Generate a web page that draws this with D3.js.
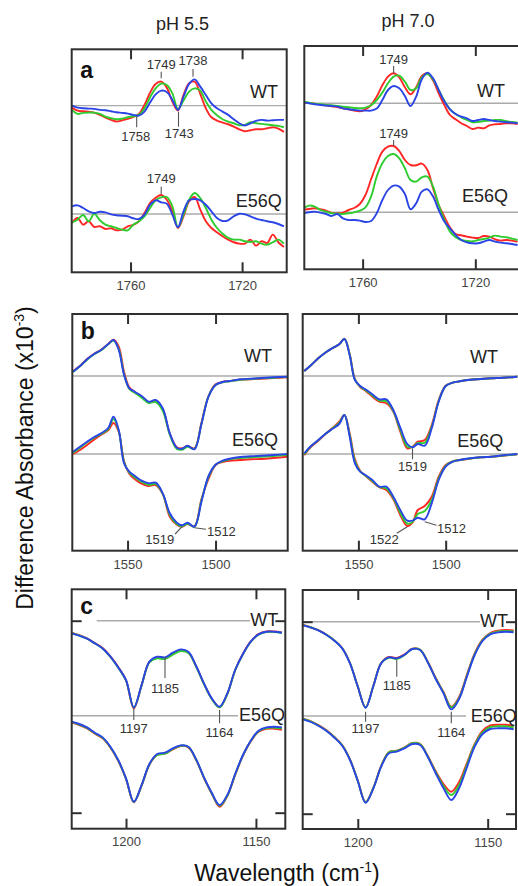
<!DOCTYPE html>
<html><head><meta charset="utf-8">
<script src="https://cdn.jsdelivr.net/npm/d3@7"></script>
<style>
body{margin:0;background:#fff}
svg{display:block}
text{font-family:"Liberation Sans",Arial,Helvetica,sans-serif}
</style>
</head><body>
<svg id="chart" width="518" height="886"></svg>
<script>
// ---------------- DATA ----------------
// wavenumber grids (cm-1)
const wnA = [1781,1779,1777,1775,1773,1771,1769,1767,1765,1763,1761,1759,1757,1755,1753,1751,1749,1747,1745,1743,1741,1739,1737,1735,1733,1731,1729,1727,1725,1723,1721,1719,1717,1715,1713,1711,1709,1707,1705];
const wnB = [1581,1577,1573,1569,1565,1561,1558,1555,1552,1549,1546,1542,1538,1534,1530,1526,1522,1519,1516,1512,1508,1504,1500,1496,1492,1486,1480,1474,1467,1459];
const wnC = [1221,1218,1215,1212,1209,1206,1203,1200,1197,1194,1191,1188,1185,1182,1179,1176,1173,1170,1167,1164,1161,1158,1155,1152,1149,1146,1143,1140];

// panel a, pH 5.5
const aL_WT_red   = [-2,-5,-5.7,-6,-7,-9.3,-12,-14.3,-16,-14.7,-13.3,-11.3,-8.3,0.7,13,21.7,24,18,4,-5,10.7,22.3,24,11.7,-2.7,-11.7,-15,-17,-18.7,-21,-23.7,-25.7,-24.7,-23.7,-23.7,-22.7,-21.7,-23,-26.3];
const aL_WT_green = [-4.3,-8.3,-7.3,-7,-7,-8.3,-11,-12.7,-13.7,-13,-11.7,-10.7,-9.3,-2.7,8.3,17.3,22,20.7,12.3,-3.3,5,14,17.3,15,4,-4.3,-9.7,-13.7,-16,-17.7,-19.7,-19.3,-16.7,-17.7,-18.3,-19,-19.7,-20.3,-21.7];
const aL_WT_blue  = [0,-2,-2.7,-3,-3.3,-4.3,-4.7,-5.7,-6.7,-7.3,-8,-9.3,-10,-6,3,11.3,15,13.7,5.7,-4.3,9,21.7,26.3,19,10.7,2.3,-2.7,-6,-9.3,-13.7,-17.7,-20,-17.7,-15.3,-14.3,-15,-14.7,-14.3,-14.3];
const aL_MT_red   = [-9,-4,-10.7,-7.3,-13,-12.3,-15,-14.3,-16.3,-15.7,-12.3,-11,-7.3,1,11,16.3,19,14.3,2.7,-14,-2.3,12.7,17,4.3,-7.3,-14,-18.3,-22.3,-25.7,-28.3,-29.7,-29.7,-25.7,-31.7,-27.3,-29,-20.7,-28.3,-33];
const aL_MT_green = [-8.3,-5.7,-1,-7.3,0.3,-6.3,-10.7,-12.3,-14,-15.7,-16.3,-10.7,-7.3,-2.3,6,13.7,16.7,17,7.7,-13.3,-0.7,14.3,21,16,6,-5.7,-14,-19.7,-24,-25.7,-25.7,-27.3,-28,-27.3,-29.7,-30.7,-28.3,-25.7,-29.7];
const aL_MT_blue  = [7.7,8.7,6,2.7,1,2.3,1.7,-0.3,-1.3,-1.7,-2.3,-4.3,-5,-0.7,9.3,13.7,11.7,10.3,-0.7,-13.3,2.7,13.7,15,13.7,9.3,2.7,-4,-7,-6.3,-2.3,0.3,-0.3,-2.3,-4.7,-6,-7.3,-8.3,-10,-12.3];
// panel a, pH 7.0
const aR_WT_red   = [0.7,0.3,-0.3,-1.3,-2,-3,-3.7,-5,-6,-7.3,-8,-6,-1.7,6.7,18,26.7,30,26,16,9,16,27.3,30,22.7,10,-1.7,-11.7,-16,-20,-22.7,-25.7,-24.3,-25,-22,-21,-20.7,-20,-20,-20.7];
const aR_WT_green = [1.7,0.7,-0.3,-1,-1.7,-2,-2.7,-3.3,-4,-4.7,-5,-4.3,-2,3.3,10.7,20,26.7,27.7,21.7,13.3,15,26,29.3,24,13.3,2.7,-6,-10.7,-14,-16.7,-19,-18.7,-17.7,-17.3,-16.7,-16.7,-18,-18.7,-19.3];
const aR_WT_blue  = [1,0,-1,-1.7,-2.3,-2.7,-3.3,-5,-6,-6.7,-7.3,-7.3,-7.3,-5.3,3.3,13.3,17.3,15,7.3,-2.7,6.7,24,30.7,25,13.3,1.7,-6,-10.7,-13.3,-15,-17.7,-16.7,-15.7,-16.7,-17.7,-18.3,-19,-19.3,-20];
const aR_MT_red   = [2.3,3.3,4,3,1.7,-0.7,-1,-0.3,2.3,4.3,8.3,17.3,33,48.3,60.7,65.7,66.3,61.3,52.3,47.3,47,48.7,42.3,24,7.3,-4.3,-15,-21.7,-23,-24.3,-25.3,-25.7,-23.7,-24.3,-27,-28.3,-27.7,-28.3,-29.3];
const aR_MT_green = [4,6.7,5.7,2.3,0.7,-1,-1.3,-1.7,-1,0,1.7,5,15.7,35.7,49,56.3,58.3,54,44,32.3,30.7,35,35.7,25.7,7.3,-7.7,-19.3,-25,-27.7,-28.7,-29,-27.7,-26.7,-25.3,-23.3,-24.3,-25,-26.3,-27.7];
const aR_MT_blue  = [-1,0,0.7,-0.3,-1.7,-3.7,-1.7,-6,-7.7,-7.7,-8.3,-9.7,-8.7,-1,12.3,22.3,26.7,25.7,18.3,3,9,20.7,23,15.7,2.3,-9.3,-16,-22.7,-27.7,-30,-31,-31,-29.3,-27.7,-29.3,-30.3,-31,-31.7,-32.7];

// panel b, pH 5.5
const bL_WT_red   = [4.7,10.3,17,22.3,26.3,32,36.3,29.3,4.3,-11.3,-15.7,-20.7,-26.3,-25,-33.3,-57.7,-71.3,-72.3,-70,-72.3,-46.7,-20,-8.3,-6,-5,-3.7,-3.3,-2.7,-2,-1.3];
const bL_WT_green = [4,9.7,16.3,21.7,25.7,31.7,35.3,27,2,-13,-16.7,-21.7,-27,-26,-34.7,-58.7,-73,-73.7,-70.7,-72.7,-47.7,-20.3,-9,-6.3,-5.3,-3.7,-3,-2.3,-1.7,-1];
const bL_WT_blue  = [4.3,10,16.7,22,26,32,36,26,1,-12.3,-15.7,-20,-25.7,-24,-32.3,-57.3,-71.7,-72.7,-69.7,-73.3,-48,-20.7,-9,-6,-5,-3.3,-2.7,-2,-1.3,-0.7];
const bL_MT_red   = [0,4,9,14.3,19.3,23.7,31,22,-7,-19.7,-25,-29.7,-32,-31,-40,-62.7,-70.7,-72.7,-70,-72.3,-45,-25,-11,-8,-6.7,-6,-5.3,-5,-4,-2.7];
const bL_MT_green = [1.3,6.3,11.7,16.3,20,25,35,23,-8,-18.7,-23,-28,-30.7,-30,-40,-60.7,-70,-72.3,-69.7,-72.7,-46.3,-23,-10.7,-7.3,-5.3,-4,-3.3,-2.7,-2,-1];
const bL_MT_blue  = [2.3,7.3,12.3,17,20.7,26,37.3,24,-9.3,-17.7,-21.7,-26.7,-29.3,-28.7,-39.3,-59.3,-68.7,-71.3,-68.7,-72.7,-47.7,-22,-10.7,-6.7,-4.7,-3,-2.3,-1.7,-1,0];
// panel b, pH 7.0
const bR_WT_red   = [5,11,17.7,23.3,27.7,31.7,37.3,22,-3,-11,-14.7,-20.7,-25.7,-27.3,-35.7,-55.7,-72.3,-70.7,-65.7,-64,-49,-24,-9.7,-6.7,-5.3,-3.7,-3,-2.3,-1.7,-0.7];
const bR_WT_green = [5,11,17.7,23.3,27.7,31.7,37,21.5,-3.5,-10.5,-14,-19.5,-24.5,-25.3,-35,-54,-70.5,-71,-67,-66.7,-50.7,-25,-10,-6.7,-5.3,-3.7,-3,-2.3,-1.7,-0.7];
const bR_WT_blue  = [5,11,17.7,23.3,27.7,31.7,37,21,-4,-10,-13.3,-18.3,-23.3,-23.3,-34,-51.7,-68,-71.3,-68,-69.7,-52.3,-25.7,-10,-6.7,-5.3,-3.7,-3,-2.3,-1.7,-0.7];
const bR_MT_red   = [-1.3,7.3,13.3,19.7,25.7,32.3,39,20.7,-5.3,-16.7,-21.7,-27.7,-33.3,-36,-45.3,-61,-72,-68.7,-56,-52,-42.7,-22.7,-11,-7.3,-6,-4.7,-3.3,-2.7,-1.7,-0.3];
const bR_MT_green = [-0.3,8,13.7,20,25.3,31,39,19,-7,-17.3,-21.5,-27,-33,-34.5,-44,-58.7,-69.5,-68,-60,-57,-46,-24.5,-12,-7.5,-6,-4.5,-3.3,-2.7,-1.5,-0.2];
const bR_MT_blue  = [0.7,8.3,14,20,25,30,39,17.3,-9.3,-17.7,-21,-26,-32.7,-32.7,-42.7,-56,-66.7,-66.7,-63.7,-65.3,-49.3,-26,-12.7,-7.7,-6,-4.3,-3.3,-2.7,-1.3,0];

// panel c, pH 5.5
const cL_WT_red   = [-12,-14.5,-17.7,-22.3,-27.3,-35.7,-46.3,-59.7,-87.7,-64.7,-41.3,-36.7,-37.3,-33,-29.7,-31.7,-45.7,-63,-78,-86.7,-73,-49.3,-33,-20.7,-13.3,-10.7,-10.7,-11.7];
const cL_WT_green = [-12.3,-14.8,-18,-22.7,-27.7,-36.3,-47,-59.7,-87,-64.7,-41.7,-37.7,-38.3,-34,-30.3,-32.3,-46,-63.3,-78.3,-86.7,-73.3,-49.7,-33.7,-21.3,-14,-11.3,-11.3,-12.3];
const cL_WT_blue  = [-12.7,-15,-18,-22.7,-27.7,-36,-46.7,-59.3,-86.7,-64.3,-41,-36,-36.7,-32,-28.7,-31,-45.3,-62.7,-77.7,-86,-72.7,-49.3,-33.3,-21,-13.7,-11,-11,-12];
const cL_MT_red   = [-7,-9.3,-12.7,-18,-22.7,-32,-45,-63.3,-86.7,-70,-49,-39,-38,-33.7,-30.3,-31.7,-44.3,-62.3,-78,-91,-80.3,-59.3,-40,-25.7,-16,-13,-13,-14];
const cL_MT_green = [-6.5,-8.8,-12.2,-17.5,-22.2,-31.5,-44.7,-63,-86.3,-69.7,-48.7,-39.3,-38,-33.3,-30,-31.3,-44,-62,-77.7,-90,-80,-58.7,-39.7,-25.3,-15.5,-12.3,-12,-12.7];
const cL_MT_blue  = [-6,-8.3,-11.7,-17,-21.7,-31,-44.3,-62.7,-86,-69.3,-48.3,-38.3,-37,-32.7,-29.7,-31,-43.7,-61.7,-77,-89.3,-79.3,-58.3,-39.3,-25,-15,-11.7,-11,-11.7];
// panel c, pH 7.0
const cR_WT_red   = [-3.3,-5.7,-8.7,-13,-18.7,-26.3,-41.3,-64.7,-85.7,-64,-41.3,-35.3,-36.3,-32.7,-27,-28,-40.3,-56.3,-70.3,-85,-75.3,-53,-31.7,-18,-11.3,-9,-8.3,-8.7];
const cR_WT_green = [-3.5,-5.8,-8.8,-13.2,-18.8,-26.5,-41.5,-64.8,-85.8,-64.2,-41.5,-36,-37.3,-33.3,-27.3,-28.2,-40.7,-56.8,-71,-85.7,-76.3,-54,-32.5,-18.7,-12,-9.8,-9.2,-9.7];
const cR_WT_blue  = [-3.7,-6,-9,-13.3,-19,-26.7,-41.7,-65,-86,-64.3,-41.7,-35.7,-36.7,-33,-27.3,-28.3,-41,-57.3,-71.7,-87.7,-77.3,-55,-33.3,-19.3,-12.7,-10.7,-10,-10.7];
const cR_MT_red   = [-2.7,-5.3,-9.3,-14.3,-21,-29,-43.3,-64.5,-86,-71.7,-50,-36,-34.7,-31.3,-27,-28,-40.3,-55.3,-68,-75.7,-66,-47,-28,-15,-9.5,-8.7,-8.7,-10];
const cR_MT_green = [-3,-5.7,-9.7,-14.7,-21.3,-29.3,-43.7,-64.8,-86.3,-72,-50.3,-36.3,-35,-31.7,-27.3,-28.3,-40.7,-56.3,-70,-79,-69,-49,-29,-16.5,-11,-10.3,-10.3,-11.5];
const cR_MT_blue  = [-3.3,-6,-10,-15,-21.7,-29.7,-44,-65,-86.7,-72.3,-50.7,-37.3,-35.7,-32.3,-28,-29,-41.3,-57.3,-72.3,-84,-72.3,-51.3,-30.7,-18,-13,-12.3,-12.3,-13.3];

const ticksA = [1760,1720];
const ticksB = [1550,1500];
const ticksC = [1200,1150];
const traceNames = ["WT","E56Q"];
const colTitles = ["pH 5.5","pH 7.0"];

// ---------------- LAYOUT ----------------
const COLORS = {red:"#ff2626", green:"#2fcc2f", blue:"#2a44e6"};
const svg = d3.select("#chart");
const line = (xs, x, y, off) => d3.line()
  .x((d,i)=>x(xs[i])).y(d=>y(d+off))
  .curve(d3.curveCatmullRom.alpha(0.5));

const panels = [
 {key:"aL", letter:"a", wn:wnA, ticks:ticksA, xd:[1781.1,1704], fr:[71.7,286.7,49.3,272.3], yd:[-167,56.4], off:[0,-108.6],
  s:[[aL_WT_red,aL_WT_green,aL_WT_blue],[aL_MT_red,aL_MT_green,aL_MT_blue]],
  base:[[null,null],[null,null]], lab:[[278,98.3],[281.7,206.7]], pad:8.4,
  ann:[{t:"1749",wn:1749,ty:69.3,l:[71.7,78.3]},{t:"1738",wn:1737.6,ty:65.3,l:[69,76.7]},
       {t:"1758",wn:1757.8,ty:141,l:[116,127.3],dx:-1},{t:"1743",wn:1742.8,ty:137.7,l:[111.7,126.7],dx:0.7},
       {t:"1749",wn:1749,ty:183.3,l:[186.7,194]}]},
 {key:"aR", wn:wnA, ticks:ticksA, xd:[1780.7,1704.5], fr:[304.3,519,46,269.3], yd:[-166,57.3], off:[0,-109],
  s:[[aR_WT_red,aR_WT_green,aR_WT_blue],[aR_MT_red,aR_MT_green,aR_MT_blue]],
  base:[[null,null],[null,null]], lab:[[505,97.3],[508,202.3]], pad:8.4,
  ann:[{t:"1749",wn:1749,ty:64,l:[66,73.3]},{t:"1749",wn:1749,ty:138.3,l:[140,146]}]},
 {key:"bL", letter:"b", wn:wnB, ticks:ticksB, xd:[1581.4,1459], fr:[72.3,287.7,314,550.7], yd:[-174.7,62], off:[0,-78],
  s:[[bL_WT_red,bL_WT_green,bL_WT_blue],[bL_MT_red,bL_MT_green,bL_MT_blue]],
  base:[[null,null],[null,null]], lab:[[272,361.7],[278,446]], pad:9.5,
  ann:[{t:"1519",wn:1519,tdx:-22.3,ty:544.3,seg:[0,526.7,-7,534]},
       {t:"1512",wn:1512,tdx:12.5,ty:535.5,anchor:"start",seg:[0,527.7,11.5,529.3]}]},
 {key:"bR", wn:wnB, ticks:ticksB, xd:[1581.9,1458], fr:[302.7,519,314,550.7], yd:[-174.7,62], off:[0,-78],
  s:[[bR_WT_red,bR_WT_green,bR_WT_blue],[bR_MT_red,bR_MT_green,bR_MT_blue]],
  base:[[null,null],[null,null]], lab:[[498,363.3],[503.3,446.7]], pad:9.5,
  ann:[{t:"1519",wn:1519,ty:470.7,l:[448.3,459.3]},
       {t:"1522",wn:1522,tdx:-23,ty:544,seg:[0,526.7,-10.5,533.3]},
       {t:"1512",wn:1512,tdx:12.3,ty:533.3,anchor:"start",seg:[0,521.7,11.7,525.3]}]},
 {key:"cL", letter:"c", wn:wnC, ticks:ticksC, xd:[1220.9,1138.7], fr:[71.7,285.3,589.3,828.7], yd:[-208,31.4], off:[0,-95],
  s:[[cL_WT_red,cL_WT_green,cL_WT_blue],[cL_MT_red,cL_MT_green,cL_MT_blue]],
  base:[[96.7,250],[71.7,238]], lab:[[278.3,625.7],[285,720.7]], pad:8.4, yt:[0,-192],
  ann:[{t:"1185",wn:1185,ty:693.3,l:[657,678]},{t:"1197",wn:1197,ty:733.3,l:[708.3,720]},
       {t:"1164",wn:1164,ty:736.7,l:[710,723.3]}]},
 {key:"cR", wn:wnC, ticks:ticksC, xd:[1221.2,1139.1], fr:[302.7,516,590,829], yd:[-207.3,31.7], off:[0,-94.3],
  s:[[cR_WT_red,cR_WT_green,cR_WT_blue],[cR_MT_red,cR_MT_green,cR_MT_blue]],
  base:[[302.7,480],[302.7,466]], lab:[[508,626.7],[516.7,721.7]], pad:8.4, yt:[0,-192],
  ann:[{t:"1185",wn:1185,ty:690,l:[660,676.7]},{t:"1197",wn:1197,ty:733.3,l:[711.7,721.7]},
       {t:"1164",wn:1164,ty:736.7,l:[711.7,723.3]}]}
];

const colorOrder = ["red","green","blue"];
const fmt = d3.format("d");

panels.forEach(p=>{
  const [x0,x1,y0,y1] = p.fr;
  const x = d3.scaleLinear().domain(p.xd).range([x0,x1]);
  const y = d3.scaleLinear().domain(p.yd).range([y1,y0]);
  const g = svg.append("g");
  const cid = "clip-"+p.key;
  svg.append("clipPath").attr("id",cid).append("rect")
     .attr("x",x0).attr("y",y0).attr("width",x1-x0).attr("height",y1-y0);

  // baselines
  p.off.forEach((o,ti)=>{
    const bx = p.base[ti];
    g.append("line")
      .attr("x1", bx[0]==null? x0 : bx[0]).attr("x2", bx[1]==null? x1 : bx[1])
      .attr("y1", y(o)).attr("y2", y(o))
      .attr("stroke","#ababab").attr("stroke-width",1.4);
  });

  // traces
  const tg = g.append("g").attr("clip-path",`url(#${cid})`);
  p.s.forEach((trio,ti)=>{
    trio.forEach((vals,ci)=>{
      tg.append("path").datum(vals)
        .attr("d", line(p.wn,x,y,p.off[ti]))
        .attr("fill","none").attr("stroke",COLORS[colorOrder[ci]])
        .attr("stroke-width",1.9).attr("stroke-linejoin","round");
    });
  });

  // frame
  g.append("rect").attr("x",x0).attr("y",y0).attr("width",x1-x0).attr("height",y1-y0)
    .attr("fill","none").attr("stroke","#2f2f2f").attr("stroke-width",2);

  // x axes (inward ticks on bottom and top)
  const ab = g.append("g").attr("transform",`translate(0,${y1})`)
    .call(d3.axisBottom(x).tickValues(p.ticks).tickFormat(fmt).tickSizeInner(-10).tickSizeOuter(0).tickPadding(p.pad));
  const at = g.append("g").attr("transform",`translate(0,${y0})`)
    .call(d3.axisTop(x).tickValues(p.ticks).tickSizeInner(-10).tickSizeOuter(0).tickFormat(()=>""));
  [ab,at].forEach(a=>{
    a.select(".domain").remove();
    a.selectAll(".tick line").attr("stroke","#2f2f2f").attr("stroke-width",2);
    a.selectAll(".tick text").attr("font-size",13).attr("fill","#444")
      .attr("font-family","'Liberation Sans',Arial,sans-serif");
  });

  // y ticks (panel c)
  if (p.yt){
    const al = g.append("g").attr("transform",`translate(${x0},0)`)
      .call(d3.axisLeft(y).tickValues(p.yt).tickSizeInner(-10).tickSizeOuter(0).tickFormat(()=>""));
    const ar = g.append("g").attr("transform",`translate(${x1},0)`)
      .call(d3.axisRight(y).tickValues(p.yt).tickSizeInner(-10).tickSizeOuter(0).tickFormat(()=>""));
    [al,ar].forEach(a=>{
      a.select(".domain").remove();
      a.selectAll(".tick line").attr("stroke","#2f2f2f").attr("stroke-width",2);
    });
  }

  // trace labels
  traceNames.forEach((nm,ti)=>{
    g.append("text").attr("x",p.lab[ti][0]).attr("y",p.lab[ti][1])
      .attr("text-anchor","end").attr("font-size",18).attr("fill","#222").text(nm);
  });

  // annotations
  p.ann.forEach(a=>{
    const ax = x(a.wn);
    if (a.l){
      g.append("line").attr("x1",ax).attr("x2",ax).attr("y1",a.l[0]).attr("y2",a.l[1])
        .attr("stroke","#555").attr("stroke-width",1.1);
    }
    if (a.seg){
      g.append("line").attr("x1",ax+a.seg[0]).attr("y1",a.seg[1])
        .attr("x2",ax+a.seg[2]).attr("y2",a.seg[3])
        .attr("stroke","#555").attr("stroke-width",1.1);
    }
    g.append("text").attr("x",ax+(a.tdx||0)+(a.dx||0)).attr("y",a.ty)
      .attr("text-anchor",a.anchor||"middle").attr("font-size",13).attr("fill","#333").text(a.t);
  });

  // panel letter
  if (p.letter){
    const ly = {a:77.7,b:339.3,c:614}[p.letter];
    g.append("text").attr("x",x0+8.5).attr("y",ly).attr("font-size",23)
      .attr("font-weight","bold").attr("fill","#111").text(p.letter);
  }
});

// column titles
svg.append("text").attr("x",182.5).attr("y",30).attr("text-anchor","middle")
  .attr("font-size",18).attr("fill","#222").text(colTitles[0]);
svg.append("text").attr("x",408).attr("y",26.7).attr("text-anchor","middle")
  .attr("font-size",18).attr("fill","#222").text(colTitles[1]);

// axis titles
const xt = svg.append("text").attr("x",287).attr("y",881).attr("text-anchor","middle")
  .attr("font-size",23).attr("fill","#111");
xt.append("tspan").text("Wavelength (cm");
xt.append("tspan").attr("font-size",14).attr("dy",-9).text("-1");
xt.append("tspan").attr("dy",9).text(")");

const yt = svg.append("text").attr("transform","translate(33,458) rotate(-90)")
  .attr("text-anchor","middle").attr("font-size",23).attr("fill","#111");
yt.append("tspan").text("Difference Absorbance (x10");
yt.append("tspan").attr("font-size",14).attr("dy",-9).text("-3");
yt.append("tspan").attr("dy",9).text(")");
</script>
</body></html>
